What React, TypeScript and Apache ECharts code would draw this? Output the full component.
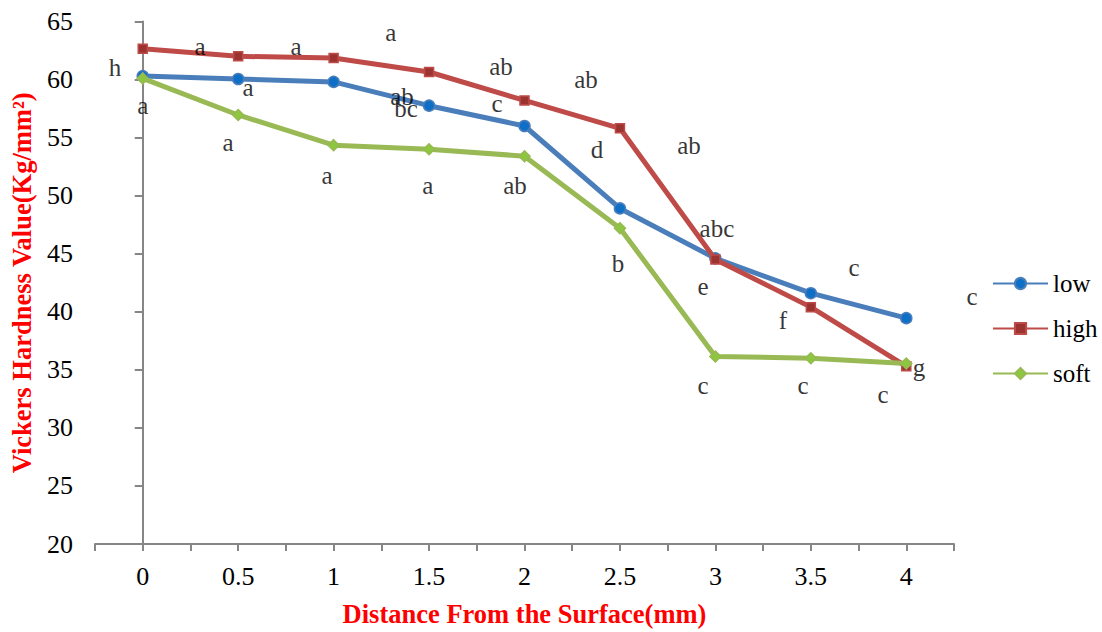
import React, { useEffect, useRef } from "react";
import * as echarts from "echarts";

const distances = [0, 0.5, 1, 1.5, 2, 2.5, 3, 3.5, 4];
const lowValues = [60.3, 60.05, 59.8, 57.75, 56.0, 48.9, 44.6, 41.6, 39.45];
const highValues = [62.65, 62.0, 61.85, 60.65, 58.2, 55.8, 44.5, 40.4, 35.3];
const softValues = [60.1, 56.95, 54.35, 54.0, 53.4, 47.2, 36.15, 36.0, 35.55];

const letterTexts = ["h", "a", "a", "a", "a", "a", "a", "a", "ab", "ab", "ab", "bc", "c", "d", "ab", "a", "ab", "abc", "b", "e", "c", "f", "c", "g", "c", "c", "c"];
const letterX = [-0.145, 0.0, 0.3, 0.552, 0.447, 0.803, 0.965, 1.3, 1.877, 2.322, 1.358, 1.379, 1.856, 2.38, 2.862, 1.494, 1.95, 3.008, 2.49, 2.935, 3.726, 3.354, 4.344, 4.067, 2.935, 3.459, 3.878];
const letterY = [61.0, 57.8, 62.84, 59.34, 54.57, 62.84, 51.75, 64.04, 61.13, 60.03, 58.58, 57.55, 57.9, 53.97, 54.31, 50.9, 50.9, 47.14, 44.16, 42.2, 43.81, 39.29, 41.34, 35.2, 33.66, 33.66, 32.9];

const FONT = "Liberation Serif";

export default function App() {
  const ref = useRef<HTMLDivElement>(null);
  useEffect(() => {
    if (!ref.current) return;
    const chart = echarts.init(ref.current, null, { renderer: "svg" });
    const pairs = (vals: number[]) => distances.map((d, i) => [d, vals[i]]);
    const letters = letterTexts.map((t, i) => [letterX[i], letterY[i], t]);
    chart.setOption({
      animation: false,
      backgroundColor: "#ffffff",
      grid: { left: 95, top: 21.5, right: 148, bottom: 81, containLabel: false },
      legend: {
        orient: "vertical",
        left: 992,
        top: 271,
        padding: 0,
        itemWidth: 55,
        itemHeight: 14,
        itemGap: 20,
        data: ["low", "high", "soft"],
        textStyle: { fontFamily: FONT, fontSize: 25, color: "#000", lineHeight: 25 },
      },
      xAxis: {
        type: "value",
        min: -0.25,
        max: 4.25,
        interval: 0.25,
        name: "Distance From the Surface(mm)",
        nameLocation: "middle",
        nameGap: 56,
        nameTextStyle: { fontFamily: FONT, fontSize: 26.5, fontWeight: "bold", color: "#ff0000" },
        axisLine: { show: true, lineStyle: { color: "#868686", width: 2 } },
        axisTick: { show: true, length: 7, lineStyle: { color: "#868686", width: 2 } },
        splitLine: { show: false },
        axisLabel: {
          margin: 19,
          fontFamily: FONT,
          fontSize: 26,
          color: "#000",
          showMinLabel: true,
          showMaxLabel: true,
          formatter: (v: number) => {
            const r = Math.round(v * 2);
            if (Math.abs(v * 2 - r) < 1e-6 && v >= -1e-6 && v <= 4 + 1e-6) return String(r / 2);
            return "";
          },
        },
      },
      yAxis: {
        type: "value",
        min: 20,
        max: 65,
        interval: 5,
        name: "Vickers Hardness Value(Kg/mm²)",
        nameLocation: "middle",
        nameRotate: 90,
        nameGap: 60,
        nameTextStyle: { fontFamily: FONT, fontSize: 26.5, fontWeight: "bold", color: "#ff0000" },
        axisLine: { show: true, lineStyle: { color: "#868686", width: 2 } },
        axisTick: { show: true, length: 8, lineStyle: { color: "#868686", width: 2 } },
        splitLine: { show: false },
        axisLabel: { margin: 22, fontFamily: FONT, fontSize: 26, color: "#000" },
      },
      series: [
        {
          name: "low",
          type: "line",
          data: pairs(lowValues),
          symbol: "circle",
          symbolSize: 11,
          lineStyle: { color: "#4A7EBB", width: 5 },
          itemStyle: { color: "#0F6FC6", borderColor: "#4A7EBB", borderWidth: 1.5 },
          z: 3,
        },
        {
          name: "high",
          type: "line",
          data: pairs(highValues),
          symbol: "rect",
          symbolSize: 9,
          lineStyle: { color: "#BE4B48", width: 5 },
          itemStyle: { color: "#9B3431", borderColor: "#BE4B48", borderWidth: 1.5 },
          z: 4,
        },
        {
          name: "soft",
          type: "line",
          data: pairs(softValues),
          symbol: "diamond",
          symbolSize: 11,
          lineStyle: { color: "#98B954", width: 5 },
          itemStyle: { color: "#8DC63F", borderColor: "#98B954", borderWidth: 1.5 },
          z: 5,
        },
        {
          name: "letters",
          type: "scatter",
          data: letters,
          symbolSize: 0,
          clip: false,
          silent: true,
          z: 10,
          label: {
            show: true,
            position: "inside",
            formatter: (p: any) => p.value[2],
            fontFamily: FONT,
            fontSize: 25,
            color: "#000",
          },
        },
      ],
    });
    return () => chart.dispose();
  }, []);
  return <div ref={ref} style={{ position: "fixed", left: 0, top: 0, width: 1102, height: 632 }} />;
}
